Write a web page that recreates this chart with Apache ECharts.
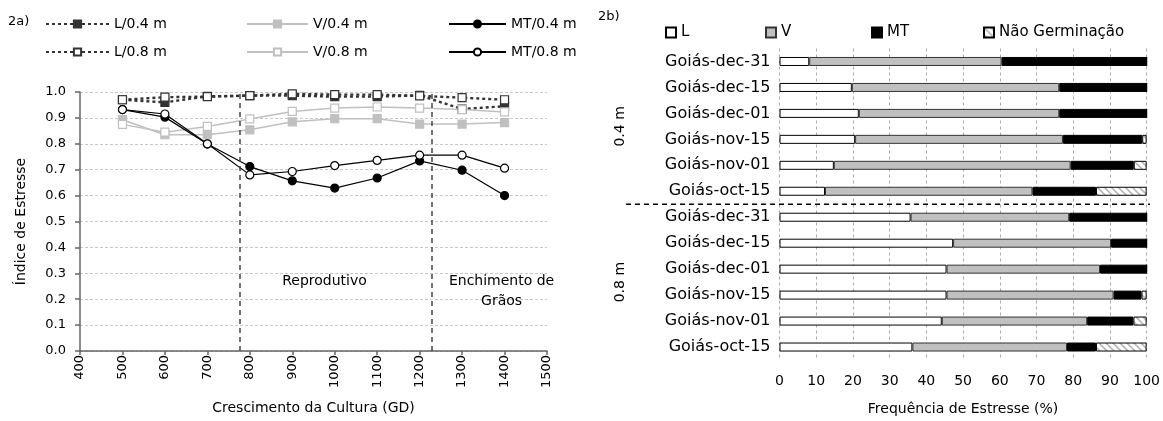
<!DOCTYPE html>
<html><head><meta charset="utf-8">
<script src="https://cdn.jsdelivr.net/npm/echarts@6/dist/echarts.min.js"></script>
<style>html,body{margin:0;padding:0;background:#fff}#c{width:1163px;height:421px}</style>
</head><body><div id="c"></div>
<script>
// ---- Panel 2a data ----
const gd = [500, 600, 700, 800, 900, 1000, 1100, 1200, 1300, 1400];
const L04  = [0.970, 0.960, 0.983, 0.986, 0.986, 0.982, 0.982, 0.987, 0.934, 0.945];
const L08  = [0.970, 0.980, 0.982, 0.986, 0.993, 0.990, 0.990, 0.985, 0.978, 0.970];
const V04  = [0.893, 0.835, 0.835, 0.854, 0.885, 0.897, 0.897, 0.876, 0.876, 0.882];
const V08  = [0.875, 0.845, 0.867, 0.896, 0.925, 0.938, 0.942, 0.938, 0.932, 0.923];
const MT04 = [0.932, 0.903, 0.799, 0.712, 0.657, 0.629, 0.668, 0.734, 0.698, 0.600];
const MT08 = [0.932, 0.915, 0.800, 0.680, 0.693, 0.716, 0.736, 0.756, 0.756, 0.706];
const phaseBounds = [777, 1229];
const phaseNotes = [
  {name: 'Reprodutivo', coord: [976, 0.267]},
  {name: 'Enchimento de', coord: [1393, 0.267]},
  {name: 'Grãos', coord: [1393, 0.193]}
];
// ---- Panel 2b data (top to bottom) ----
const dates = ['Goiás-dec-31', 'Goiás-dec-15', 'Goiás-dec-01', 'Goiás-nov-15', 'Goiás-nov-01', 'Goiás-oct-15'];
const depths = ['0.4 m', '0.8 m'];
const barL  = [8.1, 19.7, 21.6, 20.6, 14.8, 12.4,   35.7, 47.3, 45.5, 45.5, 44.2, 36.2];
const barV  = [52.4, 56.5, 54.6, 56.6, 64.5, 56.5,  43.2, 43.0, 41.8, 45.5, 39.6, 42.1];
const barMT = [39.5, 23.8, 23.8, 21.6, 17.2, 17.3,  21.1, 9.7, 12.7, 7.6, 12.6, 7.9];
const barNG = [0, 0, 0, 1.2, 3.5, 13.8,             0, 0, 0, 1.4, 3.6, 13.8];

const FONT = 'DejaVu Sans';
const cats = [];
depths.forEach(d => dates.forEach(t => cats.push(d + '|' + t)));

// hatch pattern
const hc = document.createElement('canvas');
hc.width = 7; hc.height = 7;
const hx = hc.getContext('2d');
hx.fillStyle = '#fff'; hx.fillRect(0, 0, 7, 7);
hx.strokeStyle = '#b8b8b8'; hx.lineWidth = 1.6;
hx.beginPath();
hx.moveTo(-1, -1); hx.lineTo(8, 8);
hx.moveTo(-1, 6); hx.lineTo(1, 8);
hx.moveTo(6, -1); hx.lineTo(8, 1);
hx.stroke();
const hatch = {image: hc, repeat: 'repeat'};

const toPairs = arr => arr.map((v, i) => [gd[i], v]);

function lineSeries(name, data, color, dashed, symbol, filled, width) {
  return {
    name, type: 'line', xAxisIndex: 0, yAxisIndex: 0,
    data: toPairs(data),
    symbol, symbolSize: 8, showSymbol: true,
    lineStyle: {color, width, type: dashed ? [3, 3] : 'solid'},
    itemStyle: {color: filled ? color : '#fff', borderColor: color, borderWidth: 1.2},
    emphasis: {disabled: true}, z: 3
  };
}

const series = [
  lineSeries('L/0.4 m', L04, '#333333', true, 'rect', true, 2.4),
  lineSeries('L/0.8 m', L08, '#333333', true, 'rect', false, 2.4),
  lineSeries('V/0.4 m', V04, '#c0c0c0', false, 'rect', true, 1.5),
  lineSeries('V/0.8 m', V08, '#c0c0c0', false, 'rect', false, 1.5),
  lineSeries('MT/0.4 m', MT04, '#000000', false, 'circle', true, 1.2),
  lineSeries('MT/0.8 m', MT08, '#000000', false, 'circle', false, 1.2)
];
series[4].markLine = {
  silent: true, symbol: 'none', label: {show: false},
  lineStyle: {color: '#444', type: [5, 4], width: 1.5},
  data: phaseBounds.map(x => ({xAxis: x}))
};
series[4].markPoint = {
  symbol: 'rect', symbolSize: 1, itemStyle: {color: 'rgba(0,0,0,0)'},
  label: {show: true, position: 'inside', formatter: '{b}', color: '#000', fontFamily: FONT, fontSize: 14},
  data: phaseNotes.map(n => ({name: n.name, coord: n.coord}))
};

const barBase = {type: 'bar', stack: 'tot', xAxisIndex: 1, yAxisIndex: 1, barWidth: 9,
  emphasis: {disabled: true}};
series.push(Object.assign({}, barBase, {name: 'L', data: barL,
  itemStyle: {color: '#ffffff', borderColor: '#000', borderWidth: 1}}));
series.push(Object.assign({}, barBase, {name: 'V', data: barV,
  itemStyle: {color: '#c0c0c0', borderColor: '#333', borderWidth: 1}}));
series.push(Object.assign({}, barBase, {name: 'MT', data: barMT,
  itemStyle: {color: '#000000', borderColor: '#000', borderWidth: 1}}));
series.push(Object.assign({}, barBase, {name: 'Não Germinação', data: barNG,
  itemStyle: {color: hatch, borderColor: '#000', borderWidth: 1}}));
// helper invisible series on scale for separator
series.push({type: 'line', xAxisIndex: 1, yAxisIndex: 2, data: [], silent: true});

const legText = {fontFamily: FONT, fontSize: 14, color: '#000'};
function lineLegend(name, left, top, w) {
  return {data: [name], left, top, itemWidth: w, itemHeight: 9, itemGap: 0,
    textStyle: legText, selectedMode: false, padding: 0};
}
function boxLegend(name, left) {
  return {data: [{name, icon: 'rect'}], left, top: 25, itemWidth: 10, itemHeight: 10,
    itemGap: 0, textStyle: {fontFamily: FONT, fontSize: 15, color: '#000'},
    selectedMode: false, padding: 0};
}

const option = {
  animation: false,
  backgroundColor: '#fff',
  textStyle: {fontFamily: FONT},
  legend: [
    lineLegend('L/0.4 m', 45, 17, 63), lineLegend('L/0.8 m', 45, 45, 63),
    lineLegend('V/0.4 m', 246, 17, 61), lineLegend('V/0.8 m', 246, 45, 61),
    lineLegend('MT/0.4 m', 448, 17, 57), lineLegend('MT/0.8 m', 448, 45, 57),
    boxLegend('L', 665), boxLegend('V', 765), boxLegend('MT', 871), boxLegend('Não Germinação', 983)
  ],
  grid: [
    {left: 80, right: 616, top: 92, bottom: 70},
    {left: 779.5, right: 15, top: 48.5, bottom: 57.5}
  ],
  xAxis: [
    {type: 'value', gridIndex: 0, min: 400, max: 1500, interval: 100,
     name: 'Crescimento da Cultura (GD)', nameLocation: 'middle', nameGap: 50,
     nameTextStyle: {fontFamily: FONT, fontSize: 14, color: '#000'},
     axisLine: {lineStyle: {color: '#666', width: 1.5}},
     axisTick: {show: true, length: 4, lineStyle: {color: '#666', width: 1.5}},
     axisLabel: {rotate: 90, margin: 4, formatter: v => String(v), fontFamily: FONT, fontSize: 13, color: '#000'},
     splitLine: {show: false}},
    {type: 'value', gridIndex: 1, min: 0, max: 100, interval: 10,
     name: 'Frequência de Estresse (%)', nameLocation: 'middle', nameGap: 42,
     nameTextStyle: {fontFamily: FONT, fontSize: 14, color: '#000'},
     axisLine: {show: false}, axisTick: {show: false},
     axisLabel: {margin: 14, fontFamily: FONT, fontSize: 14, color: '#000'},
     splitLine: {show: true, lineStyle: {color: '#aaa', type: [3, 3], width: 1}}}
  ],
  yAxis: [
    {type: 'value', gridIndex: 0, min: 0, max: 1, interval: 0.1,
     name: 'Índice de Estresse', nameLocation: 'middle', nameGap: 52, nameRotate: 90,
     nameTextStyle: {fontFamily: FONT, fontSize: 14, color: '#000'},
     axisLine: {show: true, lineStyle: {color: '#666', width: 1.5}},
     axisTick: {show: true, length: 5, lineStyle: {color: '#666', width: 1.5}},
     axisLabel: {formatter: v => v.toFixed(1), margin: 14, fontFamily: FONT, fontSize: 13, color: '#000'},
     splitLine: {show: true, lineStyle: {color: '#c8c8c8', type: [3, 2], width: 1}}},
    {type: 'category', gridIndex: 1, data: cats, inverse: true,
     axisLine: {show: false}, axisTick: {show: false},
     axisLabel: {formatter: v => v.split('|')[1], margin: 9, fontFamily: FONT, fontSize: 16, color: '#000'},
     splitLine: {show: false}},
    {type: 'value', gridIndex: 1, min: 0, max: cats.length, inverse: true, show: false}
  ],
  series
};

const chart = echarts.init(document.getElementById('c'), null, {renderer: 'canvas'});
chart.setOption(option);

// separator between depth groups and group labels, positioned through the axis scale
const ySep = chart.convertToPixel({yAxisIndex: 2}, dates.length);
const yTop = chart.convertToPixel({yAxisIndex: 2}, 0);
const yBot = chart.convertToPixel({yAxisIndex: 2}, cats.length);
chart.setOption({graphic: [
  {type: 'text', left: 8, top: 15, style: {text: '2a)', font: '13px "DejaVu Sans"', fill: '#000'}},
  {type: 'text', left: 598, top: 10, style: {text: '2b)', font: '13px "DejaVu Sans"', fill: '#000'}},
  {type: 'line', shape: {x1: 626, y1: ySep, x2: 1150, y2: ySep},
   style: {stroke: '#000', lineWidth: 1.5, lineDash: [5, 4]}, z: 10},
  {type: 'text', x: 620, y: (yTop + ySep) / 2, rotation: Math.PI / 2,
   style: {text: depths[0], font: '14px "DejaVu Sans"', fill: '#000', align: 'center', verticalAlign: 'middle'}},
  {type: 'text', x: 620, y: (ySep + yBot) / 2, rotation: Math.PI / 2,
   style: {text: depths[1], font: '14px "DejaVu Sans"', fill: '#000', align: 'center', verticalAlign: 'middle'}}
]});
</script>
</body></html>
